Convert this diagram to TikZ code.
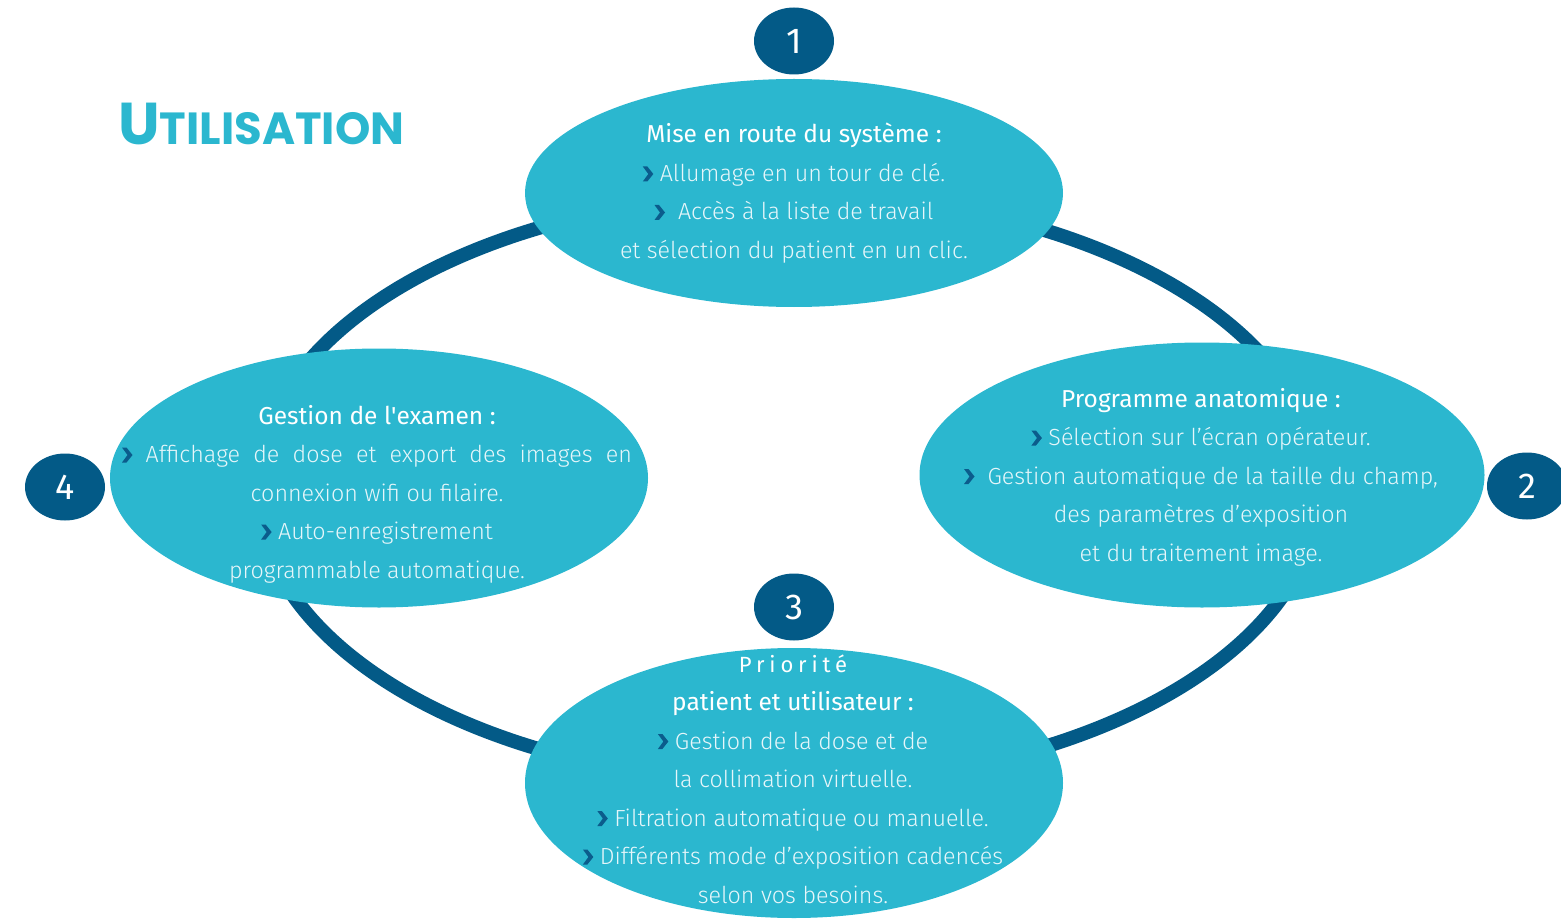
\documentclass[tikz,border=0pt]{standalone}
\usepackage{fontspec}
\setmainfont{Fira Sans Light}[BoldFont={Fira Sans}]
\newfontfamily\titlefont{Poppins}
\newfontfamily\numfont{Fira Sans}
\usetikzlibrary{shapes.geometric}
\definecolor{cyanfill}{HTML}{2BB7CF}
\definecolor{darkblue}{HTML}{035A87}
\definecolor{bulletblue}{HTML}{0B5C8C}
\definecolor{lighttext}{HTML}{E6F6FA}
\newcommand{\bul}{\tikz[x=1pt,y=1pt,baseline=0pt]\fill[bulletblue] (0,0)--(4.5,0)--(10.5,7.5)--(4.5,15)--(0,15)--(5.5,7.5)--cycle;}
\begin{document}
\begin{tikzpicture}[x=1pt,y=-1pt,
  ringstyle/.style={draw=darkblue, line width=14pt, ellipse, inner sep=0pt},
  bubble/.style={ellipse, fill=cyanfill, inner sep=0pt},
  num/.style={ellipse, fill=darkblue, text=white, inner sep=0pt, minimum width=80pt, minimum height=67pt, font=\numfont\fontsize{36}{36}\selectfont},
  tline/.style={anchor=base, text=lighttext, inner sep=0pt, font=\fontsize{23.3}{28}\selectfont},
  thead/.style={anchor=base, text=white, inner sep=0pt, font=\bfseries\fontsize{24.5}{28}\selectfont}]
\useasboundingbox (0,0) rectangle (1561,920);
% ring
\node[ringstyle, minimum width=1062pt, minimum height=590pt] (ring) at (788,488.5) {};
% bubbles
\node[bubble, minimum width=538pt, minimum height=228pt] (e1) at (794,193) {};
\node[bubble, minimum width=565pt, minimum height=265pt] (e2) at (1202,475) {};
\node[bubble, minimum width=538pt, minimum height=270pt] (e3) at (794,783) {};
\node[bubble, minimum width=538pt, minimum height=259pt] (e4) at (379,478) {};
% numbers
\node[num] (n1) at (794,41) {1};
\node[num] (n2) at (1527,486) {2};
\node[num] (n3) at (794,607) {3};
\node[num] (n4) at (65,487) {4};
% title
\node[anchor=base west, text=cyanfill, inner sep=0pt] (title) at (118,145) {\titlefont\bfseries{\fontsize{59}{59}\selectfont U}{\fontsize{45}{45}\selectfont TILISATION}};
% texts bubble 1
\node[thead] (h1) at (794,143) {Mise en route du système :};
\foreach \linetext [count=\i from 0] in {{\bul\ Allumage en un tour de clé.},{\bul\ \ Accès à la liste de travail},{et sélection du patient en un clic.}}
  \node[tline] (t1-\i) at (794,181.5+38.5*\i) {\linetext};
% texts bubble 2
\node[thead] (h2) at (1201,407) {Programme anatomique :};
\foreach \linetext [count=\i from 0] in {{\bul\ Sélection sur l’écran opérateur.},{\bul\ \ Gestion automatique de la taille du champ,},{des paramètres d’exposition},{et du traitement image.}}
  \node[tline] (t2-\i) at (1201,445.5+38.5*\i) {\linetext};
% texts bubble 3
\node[anchor=base, text=white, inner sep=0pt, font=\fontsize{22}{28}\selectfont\bfseries\addfontfeature{LetterSpace=22}] (p3) at (793,672) {Priorité};
\node[thead] (h3) at (793,710.5) {patient et utilisateur :};
\foreach \linetext [count=\i from 0] in {{\bul\ Gestion de la dose et de},{la collimation virtuelle.},{\bul\ Filtration automatique ou manuelle.},{\bul\ Différents mode d’exposition cadencés},{selon vos besoins.}}
  \node[tline] (t3-\i) at (793,749+38.5*\i) {\linetext};
% texts bubble 4
\node[thead] (h4) at (377,424) {Gestion de l\textquotesingle examen :};
\node[tline] (t4-0) at (377,462.5) {\makebox[510pt][s]{\bul\ Affichage de dose et export des images en}};
\foreach \linetext [count=\i from 1] in {{connexion wifi ou filaire.},{\bul\ Auto-enregistrement},{programmable automatique.}}
  \node[tline] (t4-\i) at (377,462.5+38.5*\i) {\linetext};
\end{tikzpicture}
\end{document}
